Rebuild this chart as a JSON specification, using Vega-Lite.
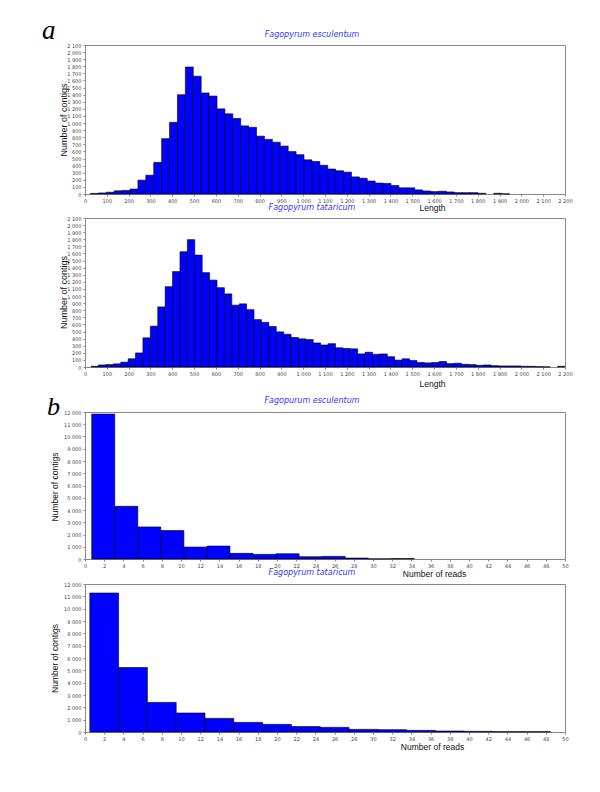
{
  "$schema": "https://vega.github.io/schema/vega-lite/v6.json",
  "background": "white",
  "padding": {"left": 42, "top": 16, "right": 5, "bottom": 5},
  "config": {
    "locale": {"number": {"decimal": ".", "thousands": " ", "grouping": [3], "currency": ["", ""]}},
    "view": {"stroke": "#8a8a8a", "strokeWidth": 1},
    "axis": {"domain": false, "grid": false, "labelFont": "DejaVu Sans", "labelFontSize": 5, "labelColor": "#444444", "tickColor": "#888888", "tickSize": 2, "labelPadding": 2, "titleFont": "Liberation Sans", "titleFontWeight": "normal", "titleColor": "#111111", "labelOverlap": false, "labelFlush": false},
    "title": {"font": "DejaVu Sans", "fontStyle": "italic", "fontSize": 8, "fontWeight": "normal", "color": "#3333ff", "anchor": "middle", "frame": "group", "baseline": "alphabetic", "dx": -13}
  },
  "datasets": {
    "a1": [
      {"s": 25, "e": 61.25, "n": 8}, {"s": 61.25, "e": 97.5, "n": 15}, {"s": 97.5, "e": 133.75, "n": 25},
      {"s": 133.75, "e": 170, "n": 45}, {"s": 170, "e": 206.25, "n": 50}, {"s": 206.25, "e": 242.5, "n": 70},
      {"s": 242.5, "e": 278.75, "n": 195}, {"s": 278.75, "e": 315, "n": 265}, {"s": 315, "e": 351.25, "n": 445},
      {"s": 351.25, "e": 387.5, "n": 780}, {"s": 387.5, "e": 423.75, "n": 1010}, {"s": 423.75, "e": 460, "n": 1400},
      {"s": 460, "e": 496.25, "n": 1790}, {"s": 496.25, "e": 532.5, "n": 1660}, {"s": 532.5, "e": 568.75, "n": 1425},
      {"s": 568.75, "e": 605, "n": 1380}, {"s": 605, "e": 641.25, "n": 1200}, {"s": 641.25, "e": 677.5, "n": 1130},
      {"s": 677.5, "e": 713.75, "n": 1065}, {"s": 713.75, "e": 750, "n": 960}, {"s": 750, "e": 786.25, "n": 940},
      {"s": 786.25, "e": 822.5, "n": 815}, {"s": 822.5, "e": 858.75, "n": 770}, {"s": 858.75, "e": 895, "n": 730},
      {"s": 895, "e": 931.25, "n": 675}, {"s": 931.25, "e": 967.5, "n": 598}, {"s": 967.5, "e": 1003.75, "n": 554},
      {"s": 1003.75, "e": 1040, "n": 482}, {"s": 1040, "e": 1076.25, "n": 458}, {"s": 1076.25, "e": 1112.5, "n": 405},
      {"s": 1112.5, "e": 1148.75, "n": 352}, {"s": 1148.75, "e": 1185, "n": 328}, {"s": 1185, "e": 1221.25, "n": 308},
      {"s": 1221.25, "e": 1257.5, "n": 241}, {"s": 1257.5, "e": 1293.75, "n": 222}, {"s": 1293.75, "e": 1330, "n": 183},
      {"s": 1330, "e": 1366.25, "n": 154}, {"s": 1366.25, "e": 1402.5, "n": 149}, {"s": 1402.5, "e": 1438.75, "n": 120},
      {"s": 1438.75, "e": 1475, "n": 87}, {"s": 1475, "e": 1511.25, "n": 87}, {"s": 1511.25, "e": 1547.5, "n": 58},
      {"s": 1547.5, "e": 1583.75, "n": 43}, {"s": 1583.75, "e": 1620, "n": 34}, {"s": 1620, "e": 1656.25, "n": 39},
      {"s": 1656.25, "e": 1692.5, "n": 29}, {"s": 1692.5, "e": 1728.75, "n": 19}, {"s": 1728.75, "e": 1765, "n": 19},
      {"s": 1765, "e": 1801.25, "n": 19}, {"s": 1801.25, "e": 1837.5, "n": 10}, {"s": 1873.75, "e": 1910, "n": 10},
      {"s": 1910, "e": 1946.25, "n": 2}
    ],
    "a2": [
      {"s": 28, "e": 61.9, "n": 10}, {"s": 61.9, "e": 95.9, "n": 29}, {"s": 95.9, "e": 129.8, "n": 34},
      {"s": 129.8, "e": 163.8, "n": 44}, {"s": 163.8, "e": 197.7, "n": 68}, {"s": 197.7, "e": 231.6, "n": 116},
      {"s": 231.6, "e": 265.6, "n": 198}, {"s": 265.6, "e": 299.5, "n": 411}, {"s": 299.5, "e": 333.5, "n": 576},
      {"s": 333.5, "e": 367.4, "n": 847}, {"s": 367.4, "e": 401.3, "n": 1132}, {"s": 401.3, "e": 435.3, "n": 1345},
      {"s": 435.3, "e": 469.2, "n": 1625}, {"s": 469.2, "e": 503.2, "n": 1795}, {"s": 503.2, "e": 537.1, "n": 1577},
      {"s": 537.1, "e": 571, "n": 1330}, {"s": 571, "e": 605, "n": 1224}, {"s": 605, "e": 638.9, "n": 1118},
      {"s": 638.9, "e": 672.9, "n": 1030}, {"s": 672.9, "e": 706.8, "n": 871}, {"s": 706.8, "e": 740.7, "n": 890},
      {"s": 740.7, "e": 774.7, "n": 808}, {"s": 774.7, "e": 808.6, "n": 668}, {"s": 808.6, "e": 842.6, "n": 629},
      {"s": 842.6, "e": 876.5, "n": 571}, {"s": 876.5, "e": 910.4, "n": 495}, {"s": 910.4, "e": 944.4, "n": 462},
      {"s": 944.4, "e": 978.3, "n": 416}, {"s": 978.3, "e": 1012.3, "n": 397}, {"s": 1012.3, "e": 1046.2, "n": 387},
      {"s": 1046.2, "e": 1080.1, "n": 339}, {"s": 1080.1, "e": 1114.1, "n": 310}, {"s": 1114.1, "e": 1148, "n": 329},
      {"s": 1148, "e": 1182, "n": 271}, {"s": 1182, "e": 1215.9, "n": 261}, {"s": 1215.9, "e": 1249.8, "n": 256},
      {"s": 1249.8, "e": 1283.8, "n": 184}, {"s": 1283.8, "e": 1317.7, "n": 208}, {"s": 1317.7, "e": 1351.7, "n": 179},
      {"s": 1351.7, "e": 1385.6, "n": 184}, {"s": 1385.6, "e": 1419.5, "n": 145}, {"s": 1419.5, "e": 1453.5, "n": 97},
      {"s": 1453.5, "e": 1487.4, "n": 116}, {"s": 1487.4, "e": 1521.4, "n": 92}, {"s": 1521.4, "e": 1555.3, "n": 63},
      {"s": 1555.3, "e": 1589.2, "n": 58}, {"s": 1589.2, "e": 1623.2, "n": 63}, {"s": 1623.2, "e": 1657.1, "n": 77},
      {"s": 1657.1, "e": 1691.1, "n": 48}, {"s": 1691.1, "e": 1725, "n": 53}, {"s": 1725, "e": 1758.9, "n": 39},
      {"s": 1758.9, "e": 1792.9, "n": 34}, {"s": 1792.9, "e": 1826.8, "n": 24}, {"s": 1826.8, "e": 1860.8, "n": 29},
      {"s": 1860.8, "e": 1894.7, "n": 19}, {"s": 1894.7, "e": 1928.6, "n": 15}, {"s": 1928.6, "e": 1962.6, "n": 15},
      {"s": 1962.6, "e": 1996.5, "n": 15}, {"s": 1996.5, "e": 2030.5, "n": 10}, {"s": 2030.5, "e": 2064.4, "n": 10},
      {"s": 2064.4, "e": 2098.3, "n": 5}, {"s": 2098.3, "e": 2132.3, "n": 2}, {"s": 2166.2, "e": 2200, "n": 10}
    ],
    "b1": [
      {"s": 0.7, "e": 3.1, "n": 11830}, {"s": 3.1, "e": 5.5, "n": 4300}, {"s": 5.5, "e": 7.9, "n": 2620},
      {"s": 7.9, "e": 10.3, "n": 2325}, {"s": 10.3, "e": 12.7, "n": 975}, {"s": 12.7, "e": 15.1, "n": 1055},
      {"s": 15.1, "e": 17.5, "n": 460}, {"s": 17.5, "e": 19.9, "n": 380}, {"s": 19.9, "e": 22.3, "n": 430},
      {"s": 22.3, "e": 24.7, "n": 190}, {"s": 24.7, "e": 27.1, "n": 215}, {"s": 27.1, "e": 29.5, "n": 80},
      {"s": 29.5, "e": 31.9, "n": 15}, {"s": 31.9, "e": 34.3, "n": 40}
    ],
    "b2": [
      {"s": 0.5, "e": 3.5, "n": 11270}, {"s": 3.5, "e": 6.5, "n": 5230}, {"s": 6.5, "e": 9.5, "n": 2400},
      {"s": 9.5, "e": 12.5, "n": 1540}, {"s": 12.5, "e": 15.5, "n": 1105}, {"s": 15.5, "e": 18.5, "n": 780},
      {"s": 18.5, "e": 21.5, "n": 620}, {"s": 21.5, "e": 24.5, "n": 445}, {"s": 24.5, "e": 27.5, "n": 378},
      {"s": 27.5, "e": 30.5, "n": 216}, {"s": 30.5, "e": 33.5, "n": 189}, {"s": 33.5, "e": 36.5, "n": 135},
      {"s": 36.5, "e": 39.5, "n": 81}, {"s": 39.5, "e": 42.5, "n": 54}, {"s": 42.5, "e": 45.5, "n": 27},
      {"s": 45.5, "e": 48.5, "n": 27}
    ]
  },
  "spacing": 5,
  "vconcat": [
    {
      "title": {"text": "a", "anchor": "start", "frame": "group", "font": "Liberation Serif", "fontStyle": "italic", "fontSize": 27, "color": "#000000", "dx": -43, "offset": -35, "baseline": "alphabetic"},
      "bounds": "flush",
      "spacing": 24,
      "vconcat": [
        {
          "title": {"text": "Fagopyrum esculentum", "offset": 4},
          "width": 480, "height": 149,
          "data": {"name": "a1"},
          "mark": {"type": "bar", "fill": "#0000ff", "stroke": "#000000", "strokeWidth": 0.6},
          "encoding": {
            "x": {"field": "s", "type": "quantitative", "scale": {"domain": [0, 2200], "nice": false},
              "axis": {"values": [0,100,200,300,400,500,600,700,800,900,1000,1100,1200,1300,1400,1500,1600,1700,1800,1900,2000,2100,2200], "format": ",d", "title": "Length", "titleX": 347, "titleY": 13, "titleBaseline": "middle", "titleFontSize": 8.5}},
            "x2": {"field": "e"},
            "y": {"field": "n", "type": "quantitative", "scale": {"domain": [0, 2100], "nice": false},
              "axis": {"values": [0,100,200,300,400,500,600,700,800,900,1000,1100,1200,1300,1400,1500,1600,1700,1800,1900,2000,2100], "format": ",d", "title": "Number of contigs", "titleX": -22, "titleY": 74.5, "titleAngle": -90, "titleBaseline": "middle", "titleAlign": "center", "titleFontSize": 9}},
            "y2": {"datum": 0}
          }
        },
        {
          "title": {"text": "Fagopyrum tataricum", "offset": 4},
          "width": 480, "height": 149,
          "data": {"name": "a2"},
          "mark": {"type": "bar", "fill": "#0000ff", "stroke": "#000000", "strokeWidth": 0.6},
          "encoding": {
            "x": {"field": "s", "type": "quantitative", "scale": {"domain": [0, 2200], "nice": false},
              "axis": {"values": [0,100,200,300,400,500,600,700,800,900,1000,1100,1200,1300,1400,1500,1600,1700,1800,1900,2000,2100,2200], "format": ",d", "title": "Length", "titleX": 347, "titleY": 16, "titleBaseline": "middle", "titleFontSize": 8.5}},
            "x2": {"field": "e"},
            "y": {"field": "n", "type": "quantitative", "scale": {"domain": [0, 2100], "nice": false},
              "axis": {"values": [0,100,200,300,400,500,600,700,800,900,1000,1100,1200,1300,1400,1500,1600,1700,1800,1900,2000,2100], "format": ",d", "title": "Number of contigs", "titleX": -22, "titleY": 74, "titleAngle": -90, "titleBaseline": "middle", "titleAlign": "center", "titleFontSize": 9}},
            "y2": {"datum": 0}
          }
        }
      ]
    },
    {
      "title": {"text": "b", "anchor": "start", "frame": "group", "font": "Liberation Serif", "fontStyle": "italic", "fontSize": 26, "color": "#000000", "dx": -38, "offset": -44, "baseline": "alphabetic"},
      "bounds": "flush",
      "spacing": 25,
      "vconcat": [
        {
          "title": {"text": "Fagopurum esculentum", "offset": 5},
          "width": 480, "height": 147,
          "data": {"name": "b1"},
          "mark": {"type": "bar", "fill": "#0000ff", "stroke": "#000000", "strokeWidth": 0.6},
          "encoding": {
            "x": {"field": "s", "type": "quantitative", "scale": {"domain": [0, 50], "nice": false},
              "axis": {"values": [0,2,4,6,8,10,12,14,16,18,20,22,24,26,28,30,32,34,36,38,40,42,44,46,48,50], "title": "Number of reads", "titleX": 349, "titleY": 14, "titleBaseline": "middle", "titleFontSize": 8.5}},
            "x2": {"field": "e"},
            "y": {"field": "n", "type": "quantitative", "scale": {"domain": [0, 12000], "nice": false},
              "axis": {"values": [0,1000,2000,3000,4000,5000,6000,7000,8000,9000,10000,11000,12000], "format": ",d", "title": "Number of contigs", "titleX": -31, "titleY": 74.5, "titleAngle": -90, "titleBaseline": "middle", "titleAlign": "center", "titleFontSize": 8.5}},
            "y2": {"datum": 0}
          }
        },
        {
          "title": {"text": "Fagopyrum tataricum", "offset": 5},
          "width": 480, "height": 148,
          "data": {"name": "b2"},
          "mark": {"type": "bar", "fill": "#0000ff", "stroke": "#000000", "strokeWidth": 0.6},
          "encoding": {
            "x": {"field": "s", "type": "quantitative", "scale": {"domain": [0, 50], "nice": false},
              "axis": {"values": [0,2,4,6,8,10,12,14,16,18,20,22,24,26,28,30,32,34,36,38,40,42,44,46,48,50], "title": "Number of reads", "titleX": 347, "titleY": 14, "titleBaseline": "middle", "titleFontSize": 8.5}},
            "x2": {"field": "e"},
            "y": {"field": "n", "type": "quantitative", "scale": {"domain": [0, 12000], "nice": false},
              "axis": {"values": [0,1000,2000,3000,4000,5000,6000,7000,8000,9000,10000,11000,12000], "format": ",d", "title": "Number of contigs", "titleX": -31, "titleY": 74, "titleAngle": -90, "titleBaseline": "middle", "titleAlign": "center", "titleFontSize": 8.5}},
            "y2": {"datum": 0}
          }
        }
      ]
    }
  ]
}
